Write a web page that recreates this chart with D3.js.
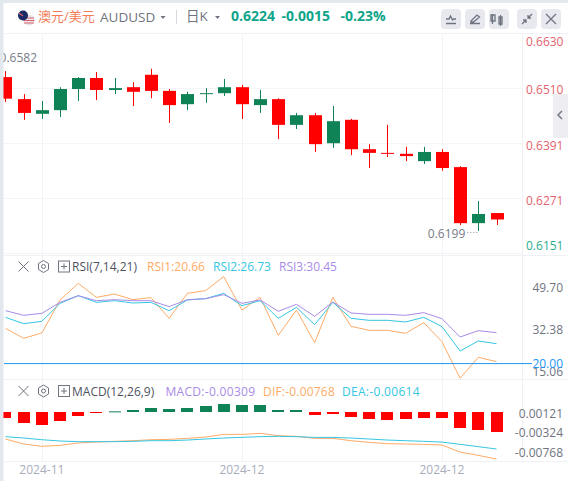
<!DOCTYPE html>
<html>
<head>
<meta charset="utf-8">
<script src="https://cdnjs.cloudflare.com/ajax/libs/d3/7.8.5/d3.min.js"></script>
<style>
	html, body { margin: 0; padding: 0; background: #fff; overflow: hidden; }
	text { font-family: "Open Sans", "Noto Sans CJK SC", sans-serif; }
</style>
</head>
<body>
<script>
// candles
opens  = [0.6534, 0.6486, 0.6454, 0.6462, 0.6508, 0.6532, 0.6506, 0.6512, 0.6539, 0.6504, 0.6475, 0.6497, 0.6499, 0.6512, 0.6473, 0.6486, 0.6430, 0.6451, 0.6390, 0.6441, 0.6377, 0.6369, 0.6367, 0.6351, 0.6371, 0.6338, 0.6216, 0.6238]
closes = [0.6487, 0.6456, 0.6462, 0.6508, 0.6532, 0.6506, 0.6510, 0.6502, 0.6504, 0.6473, 0.6497, 0.6499, 0.6512, 0.6475, 0.6486, 0.6430, 0.6451, 0.6388, 0.6438, 0.6377, 0.6369, 0.6367, 0.6362, 0.6371, 0.6336, 0.6216, 0.6236, 0.6224]
highs  = [0.6547, 0.6497, 0.6482, 0.6512, 0.6534, 0.6545, 0.6532, 0.6523, 0.6552, 0.6508, 0.6502, 0.6510, 0.6530, 0.6517, 0.6506, 0.6488, 0.6456, 0.6456, 0.6471, 0.6443, 0.6388, 0.6430, 0.6382, 0.6382, 0.6377, 0.6340, 0.6264, 0.6238]
lows   = [0.6480, 0.6441, 0.6443, 0.6447, 0.6482, 0.6484, 0.6497, 0.6471, 0.6488, 0.6434, 0.6462, 0.6478, 0.6493, 0.6443, 0.6456, 0.6399, 0.6421, 0.6371, 0.6380, 0.6364, 0.6336, 0.6360, 0.6351, 0.6345, 0.6330, 0.6212, 0.6199, 0.6212]

rsi1 = [31.92, 28.54, 30.34, 41.49, 47.12, 42.39, 43.51, 41.60, 42.28, 35.29, 43.74, 44.64, 49.37, 38.11, 42.39, 29.55, 38.11, 27.07, 42.39, 32.59, 31.24, 31.24, 30.23, 33.83, 27.41, 15.06, 22.12, 20.66]
rsi2 = [35.63, 33.49, 34.28, 40.36, 42.95, 40.70, 41.26, 40.47, 40.70, 37.88, 41.49, 41.94, 43.74, 39.57, 41.26, 35.29, 39.01, 33.15, 40.70, 35.29, 34.62, 34.62, 34.05, 35.63, 32.48, 24.26, 27.64, 26.73]
rsi3 = [37.88, 36.31, 36.98, 40.70, 42.95, 41.26, 41.60, 41.26, 41.26, 39.24, 41.60, 41.94, 43.29, 40.36, 41.49, 37.66, 40.02, 35.97, 40.81, 37.10, 36.65, 36.65, 36.31, 37.21, 35.18, 28.99, 31.13, 30.45]

macd = [-0.00093, -0.00170, -0.00201, -0.00139, -0.00062, -0.00015, 0.00010, 0.00031, 0.00062, 0.00046, 0.00062, 0.00093, 0.00124, 0.00108, 0.00108, 0.00031, 0.00031, -0.00046, -0.00031, -0.00077, -0.00108, -0.00124, -0.00108, -0.00093, -0.00093, -0.00247, -0.00278, -0.00309]
dif  = [-0.00460, -0.00537, -0.00573, -0.00558, -0.00522, -0.00507, -0.00496, -0.00486, -0.00471, -0.00466, -0.00450, -0.00430, -0.00389, -0.00389, -0.00373, -0.00409, -0.00419, -0.00450, -0.00450, -0.00486, -0.00512, -0.00532, -0.00537, -0.00543, -0.00553, -0.00661, -0.00712, -0.00768]
dea  = [-0.00424, -0.00445, -0.00471, -0.00491, -0.00501, -0.00501, -0.00501, -0.00496, -0.00486, -0.00486, -0.00476, -0.00460, -0.00445, -0.00435, -0.00424, -0.00419, -0.00424, -0.00435, -0.00435, -0.00445, -0.00460, -0.00476, -0.00486, -0.00496, -0.00507, -0.00543, -0.00578, -0.00614]

priceTicks = [0.6630, 0.6510, 0.6391, 0.6271, 0.6151]
rsiLabels = ["49.70", "32.38", "15.06"]
macdLabels = ["0.00121", "-0.00324", "-0.00768"]
timeLabels = [[2, "2024-11"], [13, "2024-12"], [24, "2024-12"]]

red = "#ff0000"
green = "#0f8256"
orange = "#ffab66"
cyan = "#35c6e2"
purple = "#a98be8"
gridColor = "#f4f5f8"

indexes = d3.range(opens.length)
x = d3.scalePoint().domain(indexes).range([5.5, 496.5])
yPrice = d3.scaleLinear().domain([0.6151, 0.6630]).range([253, 33])
yRsi = d3.scaleLinear().domain([15.06, 49.70]).range([378.2, 275.7])
yRsiLabel = d3.scalePoint().domain(rsiLabels).range([288, 372])
yHist = d3.scaleLinear().domain([-0.00309, 0]).range([432, 412])
yLine = d3.scaleLinear().domain([-0.00768, -0.00614]).range([459, 449])
yMacdLabel = d3.scalePoint().domain(macdLabels).range([413.3, 452.6])

svg = d3.select("body").append("svg")
	.attr("width", 568)
	.attr("height", 481)
	.style("display", "block")

// grid
grid = svg.append("g").attr("stroke", gridColor).attr("stroke-width", 1)
grid.selectAll("line.h").data(priceTicks).enter().append("line")
	.attr("x1", 4).attr("x2", 523)
	.attr("y1", function(d) { return Math.round(yPrice(d)) + 0.5 })
	.attr("y2", function(d) { return Math.round(yPrice(d)) + 0.5 })
grid.selectAll("line.v").data(timeLabels).enter().append("line")
	.attr("y1", 33).attr("y2", 461)
	.attr("x1", function(d) { return Math.round(x(d[0])) + 0.5 })
	.attr("x2", function(d) { return Math.round(x(d[0])) + 0.5 })
	.attr("stroke", "#f2f3f6")
seps = [[4, 568, 379.5, 379.5], [4, 568, 461.5, 461.5], [4, 568, 255.5, 255.5], [522.5, 522.5, 33, 461], [4, 568, 33.5, 33.5]]
grid.selectAll("line.s").data(seps).enter().append("line")
	.attr("x1", function(d) { return d[0] }).attr("x2", function(d) { return d[1] })
	.attr("y1", function(d) { return d[2] }).attr("y2", function(d) { return d[3] })
	.attr("stroke", "#eff1f5")

// candles
candles = svg.append("g")
function candleColor(i) { return closes[i] >= opens[i] ? green : red }
candles.selectAll("line").data(indexes).enter().append("line")
	.attr("x1", function(i) { return Math.round(x(i)) + 0.5 })
	.attr("x2", function(i) { return Math.round(x(i)) + 0.5 })
	.attr("y1", function(i) { return yPrice(highs[i]) })
	.attr("y2", function(i) { return yPrice(lows[i]) })
	.attr("stroke", candleColor)
candles.selectAll("rect").data(indexes).enter().append("rect")
	.attr("x", function(i) { return Math.round(x(i)) - 6 })
	.attr("width", 13)
	.attr("y", function(i) { return yPrice(Math.max(opens[i], closes[i])) })
	.attr("height", function(i) { return Math.max(1, Math.abs(yPrice(opens[i]) - yPrice(closes[i]))) })
	.attr("fill", candleColor)

svg.append("text").attr("x", 37).attr("y", 62).attr("text-anchor", "end")
	.attr("font-size", 12).attr("fill", "#777c88").text("0.6582")
svg.append("text").attr("x", x(26) - 13).attr("y", yPrice(0.6199) + 7).attr("text-anchor", "end")
	.attr("font-size", 12).attr("fill", "#777c88").text("0.6199")
svg.append("line").attr("x1", x(26) - 11).attr("x2", x(26) + 1)
	.attr("y1", yPrice(0.6199) + 1.5).attr("y2", yPrice(0.6199) + 1.5)
	.attr("stroke", "#8a8f9a").attr("stroke-dasharray", "1,2")

// price axis
priceShift = [8, 1, 3, 3, -8]
priceAxis = svg.append("g").attr("transform", "translate(526,0)")
	.call(d3.axisRight(yPrice).tickValues(priceTicks).tickSize(0).tickPadding(0).tickFormat(d3.format(".4f")))
priceAxis.select(".domain").remove()
priceAxis.selectAll("text")
	.attr("font-size", 12)
	.style("font-family", '"Open Sans"')
	.attr("dy", function(d, i) { return (priceShift[i] + 4) + "px" })
	.attr("fill", function(d, i) { return i == 4 ? "#2aad8f" : "#e2636d" })

// RSI
function lineOf(y) {
	return d3.line().x(function(d, i) { return x(i) }).y(function(d) { return y(d) })
}
rsiSeries = [[rsi1, orange], [rsi2, cyan], [rsi3, purple]]
svg.append("g").selectAll("path").data(rsiSeries).enter().append("path")
	.attr("d", function(d) { return lineOf(yRsi)(d[0]) })
	.attr("fill", "none")
	.attr("stroke", function(d) { return d[1] })
	.attr("stroke-width", 1)
svg.append("line").attr("x1", 4).attr("x2", 532)
	.attr("y1", yRsi(20)).attr("y2", yRsi(20))
	.attr("stroke", "#2196f3").attr("stroke-width", 1)

rsiAxis = svg.append("g").attr("transform", "translate(563,0)")
	.call(d3.axisLeft(yRsiLabel).tickSize(0).tickPadding(0))
rsiAxis.select(".domain").remove()
rsiAxis.selectAll("text").attr("font-size", 12).attr("fill", "#6f7480").style("font-family", '"Open Sans"')
svg.append("text").attr("x", 563).attr("y", yRsi(20) + 4).attr("text-anchor", "end")
	.attr("font-size", 12).attr("fill", "#2196f3").text("20.00")

// MACD
hist = svg.append("g")
hist.selectAll("rect").data(macd).enter().append("rect")
	.attr("x", function(d, i) { return Math.round(x(i)) - 6 })
	.attr("width", 12)
	.attr("y", function(d) { return d > 0 ? yHist(d) : yHist(0) })
	.attr("height", function(d) { return Math.max(1, Math.abs(yHist(d) - yHist(0))) })
	.attr("fill", function(d) { return d > 0 ? green : red })
macdSeries = [[dif, orange], [dea, cyan]]
svg.append("g").selectAll("path").data(macdSeries).enter().append("path")
	.attr("d", function(d) { return lineOf(yLine)(d[0]) })
	.attr("fill", "none")
	.attr("stroke", function(d) { return d[1] })
	.attr("stroke-width", 1)

macdAxis = svg.append("g").attr("transform", "translate(563,0)")
	.call(d3.axisLeft(yMacdLabel).tickSize(0).tickPadding(0))
macdAxis.select(".domain").remove()
macdAxis.selectAll("text").attr("font-size", 12).attr("fill", "#6f7480").style("font-family", '"Open Sans"')

svg.selectAll("text.time").data(timeLabels).enter().append("text")
	.attr("class", "time")
	.attr("x", function(d) { return x(d[0]) })
	.attr("y", 474)
	.attr("text-anchor", "middle")
	.attr("font-size", 12)
	.attr("fill", "#a8adbb")
	.text(function(d) { return d[1] })

// page chrome
svg.append("rect").attr("width", 3.5).attr("height", 481).attr("fill", "#e3e7ee")
svg.append("rect").attr("width", 568).attr("height", 3).attr("fill", "#e3e7ee")
svg.append("rect").attr("x", 553).attr("y", 94).attr("width", 15).attr("height", 44).attr("fill", "#eeeef2")
svg.append("path").attr("d", "M562 111l-4 4 4 4").attr("fill", "none").attr("stroke", "#737885").attr("stroke-width", 1.5)

function addText(x0, y0, s, size, color, weight, spacing) {
	return svg.append("text").attr("x", x0).attr("y", y0).attr("font-size", size)
		.attr("fill", color).attr("font-weight", weight || 400)
		.attr("letter-spacing", spacing || 0).text(s)
}

// flags
svg.append("circle").attr("cx", 29).attr("cy", 20).attr("r", 5.5).attr("fill", "#e9e4ea")
svg.append("path").attr("d", "M24 18h10M23.5 20.5h11M24 23h10").attr("stroke", "#d9656b").attr("stroke-width", 1.2)
svg.append("circle").attr("cx", 23).attr("cy", 15.5).attr("r", 5).attr("fill", "#1c2a66")
svg.append("path").attr("d", "M19 13l4 3").attr("stroke", "#d9656b").attr("stroke-width", 1.2)

addText(38, 21, "澳元/美元", 13, "#f47c58")
addText(100, 22, "AUDUSD", 13.5, "#6f7480")
svg.append("path").attr("d", "M160.5 16h5l-2.5 3z").attr("fill", "#6f7480")
svg.append("line").attr("x1", 176.5).attr("x2", 176.5).attr("y1", 10).attr("y2", 24).attr("stroke", "#d5d8de")
addText(186, 21, "日K", 13.5, "#6f7480")
svg.append("path").attr("d", "M215 16h5l-2.5 3z").attr("fill", "#6f7480")
addText(231, 21, "0.6224", 14, "#0fa58a", 700)
addText(281.5, 21, "-0.0015", 14, "#0fa58a", 700)
addText(340.5, 21, "-0.23%", 14, "#0fa58a", 700)

buttons = [441, 465, 489, 517, 541]
svg.selectAll("rect.btn").data(buttons).enter().append("rect")
	.attr("class", "btn")
	.attr("x", function(d) { return d }).attr("y", 9)
	.attr("width", 20).attr("height", 20).attr("rx", 4)
	.attr("fill", "#e7e9ef")
icons = [
	"M446 23.5h10M446 19h3l1.5-3 2 4 1-1h2.5",
	"M470 23.5h10M471 21l6-6 2.5 2-6 5h-2.5z",
	"M492.5 14v10M492.5 15h2.5v6h-2.5M492.5 15h-1.5v6h1.5M500.5 15v11M499 17h3v7h-3z",
	"M522 24l4-4M523 20h3v3M532 14l-4 4M531 18h-3v-3",
	"M546 14l10 10M556 14l-10 10"
]
svg.selectAll("path.icon").data(icons).enter().append("path")
	.attr("class", "icon")
	.attr("d", function(d) { return d })
	.attr("fill", "none")
	.attr("stroke", "#6f7480")
	.attr("stroke-width", 1.3)

// pane headers
function paneIcons(cy) {
	var g = svg.append("g").attr("fill", "none").attr("stroke", "#6f7480").attr("stroke-width", 1)
	g.append("path").attr("d", "M18.5 " + (cy - 5) + "l10 10M28.5 " + (cy - 5) + "l-10 10")
	g.append("path").attr("d", "M43.5 " + (cy - 6) + "l5 3v6l-5 3-5-3v-6z")
	g.append("circle").attr("cx", 43.5).attr("cy", cy).attr("r", 2)
	g.append("rect").attr("x", 58.5).attr("y", cy - 5.5).attr("width", 11).attr("height", 11)
	g.append("path").attr("d", "M61 " + cy + "h6M64 " + (cy - 3) + "v6")
}
paneIcons(266.5)
paneIcons(391)
addText(72, 271, "RSI(7,14,21)", 12, "#4f5360")
addText(147, 271, "RSI1:20.66", 12, orange)
addText(213, 271, "RSI2:26.73", 12, cyan)
addText(279, 271, "RSI3:30.45", 12, purple)
addText(72, 396, "MACD(12,26,9)", 12, "#4f5360")
addText(165.5, 396, "MACD:-0.00309", 12, purple, 400, 0.3)
addText(263, 396, "DIF:-0.00768", 12, orange, 400, 0.2)
addText(342, 396, "DEA:-0.00614", 12, cyan, 400, 0.3)
</script>
</body>
</html>
